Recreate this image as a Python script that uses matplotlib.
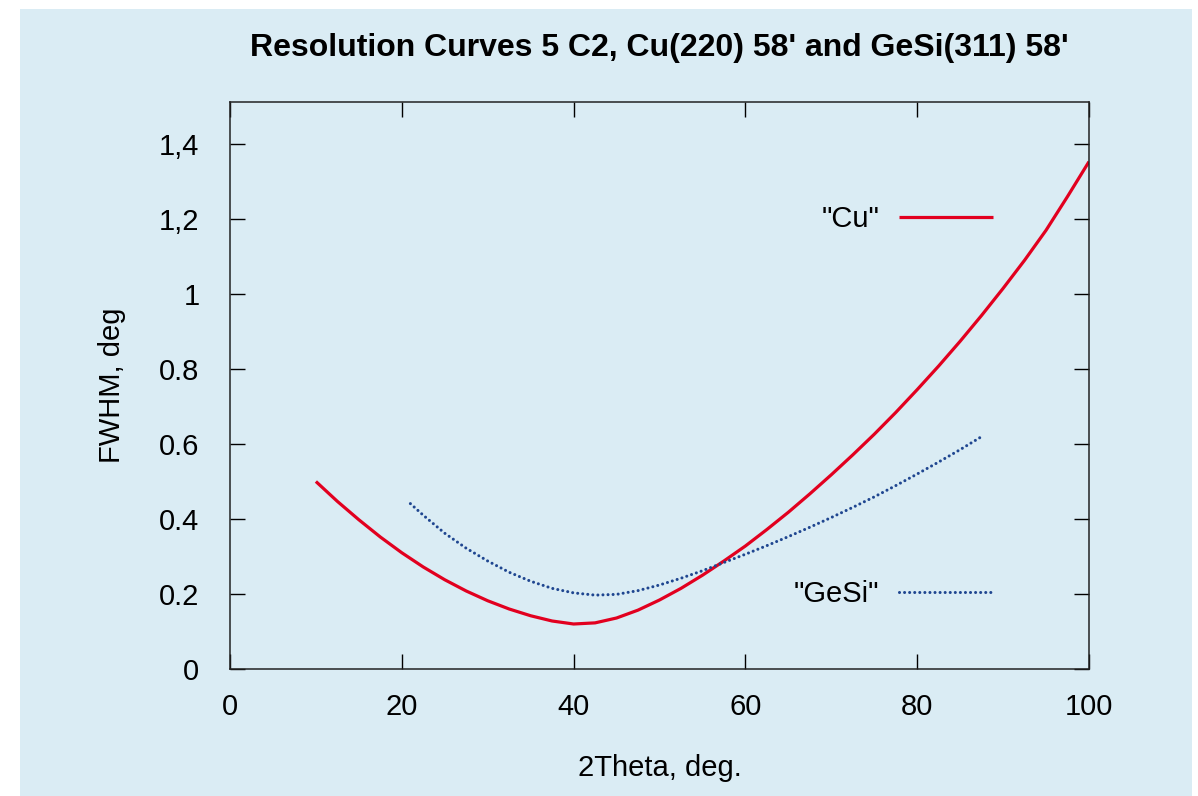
import numpy as np
import matplotlib.pyplot as plt
from matplotlib.patches import Rectangle

# ====== datos
cu_x = [10, 12.5, 15, 17.5, 20, 22.5, 25, 27.5, 30, 32.5, 35, 37.5, 40, 42.5,
        45, 47.5, 50, 52.5, 55, 57.5, 60, 62.5, 65, 67.5, 70, 72.5, 75, 77.5,
        80, 82.5, 85, 87.5, 90, 92.5, 95, 97.5, 100]
cu_y = [0.500, 0.447, 0.398, 0.352, 0.310, 0.272, 0.238, 0.208, 0.182, 0.160,
        0.142, 0.128, 0.120, 0.123, 0.136, 0.157, 0.184, 0.215, 0.250, 0.288,
        0.328, 0.372, 0.418, 0.467, 0.518, 0.571, 0.626, 0.684, 0.745, 0.808,
        0.874, 0.943, 1.015, 1.090, 1.170, 1.260, 1.353]

gesi_x = [21, 22.5, 25, 27.5, 30, 32.5, 35, 37.5, 40, 42.5, 45, 47.5, 50, 52.5,
          55, 57.5, 60, 62.5, 65, 67.5, 70, 72.5, 75, 77.5, 80, 82.5, 85, 87.3]
gesi_y = [0.441, 0.410, 0.362, 0.322, 0.288, 0.258, 0.234, 0.215, 0.203, 0.197,
          0.199, 0.209, 0.224, 0.242, 0.262, 0.284, 0.306, 0.329, 0.353, 0.378,
          0.404, 0.431, 0.459, 0.489, 0.520, 0.552, 0.585, 0.617]

x_ticks = [0, 20, 40, 60, 80, 100]
y_ticks = [0, 0.2, 0.4, 0.6, 0.8, 1.0, 1.2, 1.4]
y_labels = ['0', '0.2', '0.4', '0.6', '0.8', '1', '1,2', '1,4']

titulo = "Resolution Curves 5 C2, Cu(220) 58' and GeSi(311) 58'"

plt.rcParams['font.family'] = ['Liberation Sans', 'DejaVu Sans']

fondo = '#daecf4'
rojo = '#e2001f'
azul = '#1f4690'
fs = 21

fig = plt.figure(figsize=(11.98, 7.96), dpi=100)
fig.patch.set_facecolor('white')
fig.patches.append(Rectangle((20 / 1198, 0), 1172 / 1198, 787 / 796,
                             transform=fig.transFigure, facecolor=fondo,
                             edgecolor='none', zorder=-5))

ax = fig.add_axes([230 / 1198, 127 / 796, 859 / 1198, 567 / 796])
ax.set_facecolor(fondo)

l1, = ax.plot(cu_x, cu_y, color=rojo, lw=2.3, solid_capstyle='butt',
              solid_joinstyle='round')
l2, = ax.plot(gesi_x, gesi_y, color=azul, lw=2.2, linestyle=(0, (0.01, 1.65)),
              dash_capstyle='round')

ax.set_xlim(0, 100)
ax.set_ylim(0, 1.512)
ax.set_xticks(x_ticks)
ax.set_yticks(y_ticks)
ax.set_yticklabels(y_labels)
ax.tick_params(direction='in', length=11, width=1.0, top=True, right=True,
               labelsize=fs, pad=17)
ax.tick_params(axis='y', pad=22)
for s in ax.spines.values():
    s.set_linewidth(1.1)
    s.set_color('#222222')

ax.set_xlabel('2Theta, deg.', fontsize=fs, labelpad=24)
ax.set_ylabel('FWHM, deg', fontsize=fs, labelpad=24)
ax.set_title(titulo, fontsize=23, fontweight='bold', pad=33)

# leyendas separadas como en gnuplot
leg1 = ax.legend([l1], ['"Cu"'], loc='center right', bbox_to_anchor=(0.888, 0.794),
                 frameon=False, markerfirst=False, fontsize=fs, handlelength=3.2,
                 handletextpad=0.7, borderpad=0, borderaxespad=0)
ax.add_artist(leg1)
ax.legend([l2], ['"GeSi"'], loc='center right', bbox_to_anchor=(0.888, 0.132),
          frameon=False, markerfirst=False, fontsize=fs, handlelength=3.2,
          handletextpad=0.7, borderpad=0, borderaxespad=0)

fig.savefig('out.png', dpi=100)
